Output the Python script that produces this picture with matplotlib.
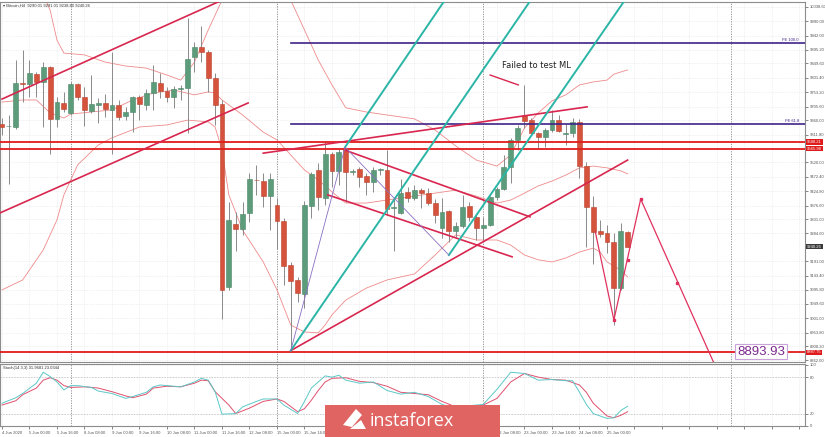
import numpy as np
import matplotlib
matplotlib.use("Agg")
import matplotlib.pyplot as plt
import matplotlib.transforms as mtransforms
from matplotlib.patches import Rectangle, Polygon

# ---- candles (Bitcoin H4), index 0 = 4 Jun 08:00
opens = [9648, 9640, 9638, 9784, 9781, 9814, 9788, 9838, 9665, 9718,
         9685, 9781, 9738, 9691, 9712, 9718, 9695, 9711, 9675, 9688,
         9738, 9711, 9751, 9784, 9758, 9738, 9764, 9768, 9871, 9904,
         9888, 9801, 9715, 9106, 9315, 9299, 9352, 9462, 9458, 9409,
         9379, 9325, 9179, 9129, 9083, 9375, 9495, 9402, 9548, 9492,
         9565, 9488, 9498, 9475, 9455, 9495, 9495, 9368, 9352, 9422,
         9402, 9428, 9418, 9385, 9302, 9359, 9292, 9309, 9375, 9339,
         9302, 9312, 9405, 9432, 9505, 9595, 9678, 9661, 9618, 9605,
         9628, 9661, 9615, 9618, 9655, 9508, 9372, 9292, 9285, 9255,
         9102, 9290.01]
highs = [9668, 9678, 9861, 9894, 9861, 9821, 9854, 9842, 9738, 9754,
         9788, 9784, 9771, 9811, 9734, 9748, 9888, 9728, 9705, 9740,
         9745, 9764, 9844, 9818, 9771, 9774, 9778, 10001, 9921, 9974,
         9894, 9818, 9728, 9389, 9355, 9389, 9485, 9512, 9485, 9485,
         9402, 9335, 9189, 9139, 9392, 9488, 9518, 9588, 9555, 9565,
         9568, 9498, 9505, 9485, 9505, 9502, 9561, 9405, 9465, 9438,
         9445, 9435, 9435, 9398, 9402, 9362, 9322, 9412, 9389, 9352,
         9339, 9408, 9438, 9545, 9601, 9645, 9778, 9668, 9621, 9635,
         9695, 9678, 9648, 9668, 9665, 9522, 9408, 9329, 9312, 9285,
         9319, 9291.01]
lows = [9611, 9448, 9630, 9721, 9738, 9738, 9638, 9548, 9638, 9688,
        9678, 9728, 9641, 9685, 9651, 9671, 9548, 9661, 9661, 9621,
        9661, 9695, 9695, 9735, 9721, 9701, 9728, 9618, 9821, 9854,
        9754, 9645, 8999, 9096, 9226, 9279, 9322, 9412, 9372, 9295,
        9232, 9112, 8893.93, 9056, 9036, 9335, 9362, 9379, 9438, 9445,
        9389, 9478, 9438, 9412, 9422, 9478, 9345, 9226, 9350, 9389,
        9395, 9368, 9380, 9319, 9269, 9255, 9272, 9302, 9325, 9262,
        9262, 9309, 9395, 9428, 9452, 9561, 9635, 9611, 9568, 9571,
        9621, 9621, 9578, 9605, 9468, 9239, 9182, 9272, 9219, 8979,
        9096, 9238.80]
closes = [9638, 9642, 9784, 9781, 9818, 9788, 9838, 9665, 9721, 9698,
          9781, 9738, 9695, 9715, 9718, 9698, 9711, 9671, 9688, 9738,
          9715, 9751, 9788, 9758, 9738, 9764, 9766, 9864, 9904, 9888,
          9801, 9711, 9096, 9329, 9299, 9349, 9465, 9460, 9409, 9465,
          9325, 9176, 9126, 9086, 9379, 9482, 9405, 9548, 9492, 9555,
          9488, 9490, 9472, 9455, 9495, 9497, 9365, 9372, 9418, 9402,
          9428, 9418, 9385, 9345, 9355, 9292, 9309, 9372, 9339, 9302,
          9312, 9405, 9432, 9505, 9595, 9635, 9658, 9618, 9605, 9628,
          9661, 9625, 9618, 9655, 9508, 9372, 9289, 9282, 9255, 9102,
          9292, 9240.26]

# ---- Bollinger bands (candle index, price)
bb_up_t = [0, 3, 6, 7, 8, 9, 12, 15, 18, 21, 24, 26, 28, 30, 32, 34, 38, 42, 44, 46,
           48, 50, 53, 56, 60, 63, 66, 69, 72, 74, 76, 78, 80, 82, 84, 86, 88, 89, 91]
bb_up_p = [10200, 10194, 10077, 10027, 9927, 9884, 9878, 9854, 9841, 9834, 9811, 9794,
           9854, 9961, 10060, 10160, 10160, 10060, 9961, 9861, 9778, 9702, 9688, 9678,
           9665, 9628, 9575, 9528, 9508, 9545, 9635, 9685, 9725, 9745, 9778, 9788, 9794,
           9814, 9828]
bb_mid_t = [0, 3, 5, 7, 9, 10, 13, 16, 19, 22, 25, 28, 30, 31, 32, 35, 38, 40, 42, 44,
            46, 48, 50, 53, 56, 60, 63, 66, 69, 72, 74, 76, 78, 80, 82, 84, 86, 88, 90, 91]
bb_mid_p = [9721, 9728, 9728, 9685, 9668, 9681, 9688, 9695, 9728, 9751, 9761, 9745,
            9755, 9751, 9728, 9678, 9621, 9595, 9545, 9495, 9462, 9422, 9385, 9385, 9395,
            9408, 9418, 9428, 9408, 9385, 9395, 9418, 9442, 9458, 9478, 9502, 9508, 9502,
            9492, 9482]
bb_lo_t = [0, 3, 6, 8, 9, 11, 14, 16, 20, 24, 27, 30, 31, 32, 33, 35, 38, 40, 42, 44,
           46, 47, 48, 50, 53, 56, 60, 63, 66, 69, 72, 74, 76, 78, 80, 82, 84, 86, 87,
           88, 90, 91]
bb_lo_p = [9096, 9129, 9229, 9329, 9412, 9512, 9578, 9602, 9638, 9645, 9661, 9655, 9638,
           9562, 9412, 9295, 9189, 9096, 8979, 8956, 8953, 8979, 9013, 9062, 9102, 9129,
           9149, 9212, 9279, 9262, 9262, 9245, 9212, 9196, 9189, 9202, 9222, 9235, 9222,
           9189, 9162, 9139]

# ---- Stochastic (14,3,3)
st_main_t = [0, 2, 3, 5, 6, 7, 8, 9, 10, 11, 13, 14, 16, 18, 19, 21, 22, 23, 25, 26, 28,
             29, 30, 31, 32, 34, 35, 37, 38, 40, 41, 43, 44, 45, 46, 47, 48, 49, 50, 52,
             54, 56, 58, 60, 62, 64, 66, 68, 70, 72, 74, 76, 78, 80, 82, 83, 84, 85, 86,
             88, 89, 90, 91]
st_main_v = [37, 46, 53, 70, 88, 81, 72, 59, 66, 66, 63, 57, 53, 45, 48, 55, 64, 67, 65,
             64, 72, 78, 75, 56, 19, 20, 31, 40, 44, 44, 34, 20, 40, 62, 72, 82, 80, 83,
             75, 70, 72, 58, 52, 55, 48, 35, 28, 33, 35, 60, 88, 86, 75, 76, 74, 74, 55,
             35, 20, 12, 13, 25, 32]
st_sig_t = [0, 2, 3, 5, 6, 7, 8, 9, 10, 12, 14, 16, 18, 19, 21, 22, 24, 26, 28, 29, 30,
            31, 33, 34, 36, 38, 40, 41, 43, 44, 45, 46, 47, 48, 50, 52, 54, 56, 58, 60,
            62, 64, 66, 68, 70, 72, 74, 76, 78, 80, 82, 84, 85, 86, 88, 89, 90, 91]
st_sig_v = [34, 41, 51, 62, 75, 79, 75, 66, 63, 64, 62, 56, 49, 46, 52, 62, 65, 64, 70,
            75, 74, 56, 34, 20, 29, 40, 44, 40, 23, 28, 42, 58, 72, 78, 79, 73, 71, 65,
            55, 53, 51, 40, 31, 31, 34, 45, 72, 86, 80, 76, 75, 67, 55, 37, 16, 13, 17, 23]

# ---- analysis drawings (candle index, price)
chan_up_t, chan_up_p = [0, 32], [9731, 10060]
chan_lo_t, chan_lo_p = [-0.3, 35.8], [9352, 9718]
ml_t, ml_p = [38, 85.1], [9551, 9705]
trend_t, trend_p = [42, 91], [8893.93, 9528]
desc_up_t, desc_up_p = [49.9, 76.8], [9561, 9339]
desc_lo_t, desc_lo_p = [47.4, 74.2], [9412, 9206]
fork_med_t, fork_med_p = [42, 77.5], [8893.93, 10080]
fork_a_t, fork_a_p = [49.9, 65], [9571, 10080]
fork_c_t, fork_c_p = [65, 91.2], [9212, 10080]
fork_base_t, fork_base_p = [42, 49.9, 65], [8893.93, 9571, 9212]
failed_t, failed_p = [71, 75.1], [9811, 9778]
zig_t, zig_p = [86.3, 89, 92.9, 103.6], [9289, 8996, 9398, 8850]
zig_mark_t, zig_mark_p = [89, 91.1, 92.9, 98.2], [8996, 9196, 9398, 9119]

red_levels = [9588.21, 9565.98, 8887.75]
fe_levels = [9916.5, 9647.0]
fe_names = ["FE 100.0", "FE 61.8"]
fe_start = 42
target = 8893.93
last_price = 9240.26

price_ticks = [10038.60, 9990.00, 9942.00, 9895.20, 9849.60, 9801.40, 9753.20, 9705.60,
               9660.00, 9611.80, 9520.00, 9472.40, 9424.80, 9376.60, 9331.00,
               9284.60, 9191.00, 9143.40, 9095.80, 9049.60, 9001.00, 8953.80, 8908.20,
               8862.00]
# time labels every 4 candles; the ones under the watermark are hidden there
time_labels = ["4 Jun 2020", "5 Jun 00:00", "5 Jun 16:00", "8 Jun 08:00", "9 Jun 00:00",
               "9 Jun 16:00", "10 Jun 08:00", "11 Jun 00:00", "11 Jun 16:00", "12 Jun 08:00",
               "15 Jun 00:00", "15 Jun 16:00", "", "", "", "", "", "",
               "22 Jun 08:00", "23 Jun 00:00", "23 Jun 16:00", "24 Jun 08:00", "25 Jun 00:00"]
separators = [10, 40, 70, 106]

GREEN = "#5d9c7a"
RED = "#d5533d"
CRIMSON = "#d8264f"
PURPLE = "#3f2288"
TEAL = "#2bb5a6"
BAND = "#ef8a8a"
FAMS = ["Liberation Sans", "DejaVu Sans"]
SMALL = dict(family=FAMS, size=3.0)

fig = plt.figure(figsize=(8.25, 4.37), dpi=100)
ax = fig.add_axes([0.0, 75 / 437, 805 / 825, 360 / 437])
ax2 = fig.add_axes([0.0, 11 / 437, 805 / 825, 62 / 437], sharex=ax)

x0, x1 = -0.29, 116.8
ax.set_xlim(x0, x1)
ax.set_ylim(8856, 10054)

for a in (ax, ax2):
    for s in a.spines.values():
        s.set_color("#8c8c8c")
        s.set_linewidth(0.8)
    a.set_xticks(np.arange(0, 117, 4))
    a.grid(True, color="#e4e4e4", lw=0.5, ls=(0, (1, 1.5)))
    a.set_axisbelow(True)
    for sx in separators:
        a.axvline(sx, color="#8a8a8a", lw=0.6, ls=(0, (1.5, 1.5)), zorder=1)

# candles
idx = np.arange(len(closes))
o = np.array(opens)
c = np.array(closes)
ax.vlines(idx, lows, highs, color="#8a8a8a", lw=0.7, zorder=3)
up = c >= o
body = np.maximum(np.abs(c - o), 3.0)
bottom = np.minimum(o, c)
ax.bar(idx[up], body[up], bottom=bottom[up], width=0.7, color=GREEN,
       edgecolor="#4b8566", lw=0.4, zorder=4)
ax.bar(idx[~up], body[~up], bottom=bottom[~up], width=0.7, color=RED,
       edgecolor="#b9432f", lw=0.4, zorder=4)

# bollinger
for t, p in ((bb_up_t, bb_up_p), (bb_mid_t, bb_mid_p), (bb_lo_t, bb_lo_p)):
    ax.plot(t, p, color=BAND, lw=0.6, zorder=2)

# horizontal levels
for lv in red_levels:
    ax.axhline(lv, color="#e01b1b", lw=1.3, zorder=5)
for lv, nm in zip(fe_levels, fe_names):
    ax.plot([fe_start, x1], [lv, lv], color=PURPLE, lw=1.2, zorder=5)
    ax.text(115.9, lv + 3, nm, ha="right", va="bottom", color=PURPLE, **SMALL)

# drawings
ax.plot(chan_up_t, chan_up_p, color=CRIMSON, lw=1.2, zorder=6)
ax.plot(chan_lo_t, chan_lo_p, color=CRIMSON, lw=1.2, zorder=6)
ax.plot(ml_t, ml_p, color=CRIMSON, lw=1.2, zorder=6)
ax.plot(trend_t, trend_p, color=CRIMSON, lw=1.2, zorder=6)
ax.plot(desc_up_t, desc_up_p, color=CRIMSON, lw=1.2, zorder=6)
ax.plot(desc_lo_t, desc_lo_p, color=CRIMSON, lw=1.2, zorder=6)
ax.plot(failed_t, failed_p, color=CRIMSON, lw=1.0, zorder=6)
ax.plot(fork_med_t, fork_med_p, color=TEAL, lw=1.4, zorder=6)
ax.plot(fork_a_t, fork_a_p, color=TEAL, lw=1.4, zorder=6)
ax.plot(fork_c_t, fork_c_p, color=TEAL, lw=1.4, zorder=6)
ax.plot(fork_base_t, fork_base_p, color="#8a6fc4", lw=0.6, zorder=6)
ax.plot(zig_t, zig_p, color="#e0325e", lw=0.9, zorder=6)
ax.plot(zig_mark_t, zig_mark_p, ls="none", marker="s", ms=1.8, color="#e0325e", zorder=7)

ax.text(72.7, 9844, "Failed to test ML", fontsize=6, color="#222222", va="center")
ax.text(110.4, target - 4, f"{target:.2f}", ha="center", va="center", fontsize=9.5,
        family="Liberation Sans", color="#7b2a8e", zorder=8,
        bbox=dict(boxstyle="square,pad=0.12", fc="white", ec="#c9a3d8", lw=0.8))
ax.text(0.004, 0.995, "\u25be Bitcoin,H4  9290.01 9291.01 9238.80 9240.26",
        transform=ax.transAxes, va="top", color="#333333", **SMALL)

# right price axis
ax.yaxis.tick_right()
ax.set_yticks(price_ticks)
ax.set_yticklabels([f"{v:.2f}" for v in price_ticks], family="Liberation Sans")
ax.tick_params(axis="y", labelsize=3.0, length=2, width=0.5, colors="#555555", pad=1.2)
ax.tick_params(axis="x", length=0, labelbottom=False)

bt = mtransforms.blended_transform_factory(ax.transAxes, ax.transData)
for lv in red_levels:
    ax.text(1.0025, lv, f"{lv:.2f}", transform=bt, color="white",
            va="center", ha="left", clip_on=False, zorder=9,
            bbox=dict(boxstyle="square,pad=0.2", fc="#e01b1b", ec="none"), **SMALL)
ax.text(1.0025, last_price, f"{last_price:.2f}", transform=bt, color="white",
        va="center", ha="left", clip_on=False, zorder=9,
        bbox=dict(boxstyle="square,pad=0.2", fc="#3a3a3a", ec="none"), **SMALL)

# stochastic panel
ax2.set_ylim(-0.5, 101.6)
ax2.plot(st_sig_t, st_sig_v, color="#e0506e", lw=0.7, zorder=3)
ax2.plot(st_main_t, st_main_v, color="#5cc8c8", lw=0.7, zorder=3)
for lv in (20, 80):
    ax2.axhline(lv, color="#bbbbbb", lw=0.5, ls=(0, (2, 2)))
ax2.yaxis.tick_right()
ax2.set_yticks([0, 20, 80, 100])
ax2.set_yticklabels(["0", "20", "80", "100"], family="Liberation Sans")
ax2.tick_params(axis="y", labelsize=3.0, length=2, width=0.5, colors="#555555", pad=1.2)
ax2.text(0.004, 0.97, "Stoch(14,3,3) 31.9681 23.0344", transform=ax2.transAxes,
         va="top", color="#333333", **SMALL)
ticks = np.arange(0, 117, 4)
ax2.set_xticks(ticks)
ax2.set_xticklabels([time_labels[k] if k < len(time_labels) else "" for k in range(len(ticks))],
                    ha="left", family="Liberation Sans")
ax2.tick_params(axis="x", labelsize=3.0, length=2, width=0.5, colors="#555555", pad=1.5)

# watermark
fig.patches.append(Rectangle((325 / 825, 0), 175 / 825, 32 / 437, transform=fig.transFigure,
                             fc="#e06462", ec="none", zorder=20))
fig.patches.append(Polygon([(343 / 825, 12 / 437), (356 / 825, 28 / 437), (362 / 825, 22 / 437),
                            (352 / 825, 10 / 437)], closed=True, transform=fig.transFigure,
                           fc="white", ec="none", zorder=21))
fig.patches.append(Polygon([(350 / 825, 8 / 437), (366 / 825, 8 / 437), (361 / 825, 17 / 437)],
                           closed=True, transform=fig.transFigure, fc="white", ec="none",
                           zorder=21))
fig.text(412 / 825, 16 / 437, "instaforex", ha="center", va="center", fontsize=13,
         family="Open Sans", color="white", zorder=22)

fig.savefig("out.png", dpi=100)
